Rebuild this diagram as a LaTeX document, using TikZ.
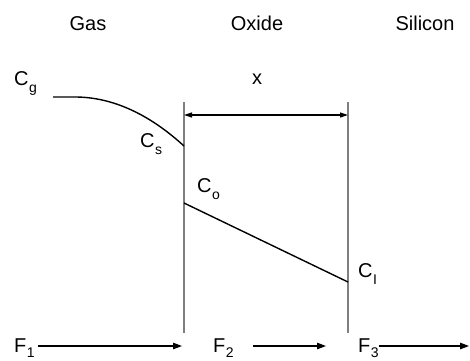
\documentclass[tikz,border=0pt]{standalone}
\usepackage{fontspec}
\setmainfont{Liberation Sans}
\usetikzlibrary{arrows.meta}
\newcommand{\conc}[3][-7pt]{#2\kern0.5pt\raisebox{#1}{\fontsize{14}{14}\selectfont #3}}
\definecolor{wallgray}{HTML}{7F7F7F}

\begin{document}
\begin{tikzpicture}[
  x=1pt,
  y=-1pt,
  every node/.style={font=\fontsize{20}{24}\selectfont, inner sep=0pt, black},
  wall/.style={wallgray, line width=2.4pt},
  profile/.style={black, line width=1.4pt},
  flux/.style={black, line width=1.2pt, -{Triangle[length=9pt, width=6.5pt]}},
  span/.style={black, line width=1.2pt, {Triangle[length=8pt, width=5pt]}-{Triangle[length=8pt, width=5pt]}}
]
  % ---- page: 470 by 360, origin top left ------------------------------
  \useasboundingbox (0,0) rectangle (470,360);

  % ---- the three regions ----------------------------------------------
  \node[anchor=base] (gas)     at (88,30)  {Gas};
  \node[anchor=base] (oxide)   at (257,30) {Oxide};
  \node[anchor=base] (silicon) at (425,30) {Silicon};

  % ---- the two interfaces ---------------------------------------------
  \coordinate (gastop) at (184,102);
  \coordinate (gasbot) at (184,333);
  \coordinate (sitop)  at (348,102);
  \coordinate (sibot)  at (348,333);
  \draw[wall] (gastop) -- (gasbot);
  \draw[wall] (sitop) -- (sibot);

  % ---- oxide thickness ------------------------------------------------
  \draw[span] (184,115) -- (348,115);
  \node[anchor=base] (thick) at (257,84) {x};

  % ---- concentration in the gas ---------------------------------------
  \coordinate (cgstart) at (53,97);
  \coordinate (cgknee)  at (75,97);
  \coordinate (csend)   at (184,146);
  \draw[profile] (cgstart) -- (cgknee)
    .. controls (111,97) and (148,113) .. (csend);

  % ---- concentration in the oxide -------------------------------------
  \coordinate (costart) at (184,203);
  \coordinate (ciend)   at (348,282);
  \draw[profile] (costart) -- (ciend);

  % ---- concentration labels -------------------------------------------
  \node[anchor=base west] (cg) at (14,85)  {\conc{C}{g}};
  \node[anchor=base west] (cs) at (140,147) {\conc{C}{s}};
  \node[anchor=base west] (co) at (197,192) {\conc{C}{o}};
  \node[anchor=base west] (ci) at (358,277) {\conc{C}{I}};

  % ---- fluxes ---------------------------------------------------------
  \node[anchor=base west] (f1) at (14,352)  {\conc[-5pt]{F}{1}};
  \node[anchor=base west] (f2) at (213,352) {\conc[-5pt]{F}{2}};
  \node[anchor=base west] (f3) at (358,352) {\conc[-5pt]{F}{3}};
  \coordinate (f1end) at (182,346);
  \coordinate (f2beg) at (253,346);
  \coordinate (f2end) at (326,346);
  \coordinate (f3end) at (469,346);
  \draw[flux] (f1.east |- f1end) ++(3,0) -- (f1end);
  \draw[flux] (f2beg) -- (f2end);
  \draw[flux] (f3.east |- f3end) -- (f3end);
\end{tikzpicture}
\end{document}
